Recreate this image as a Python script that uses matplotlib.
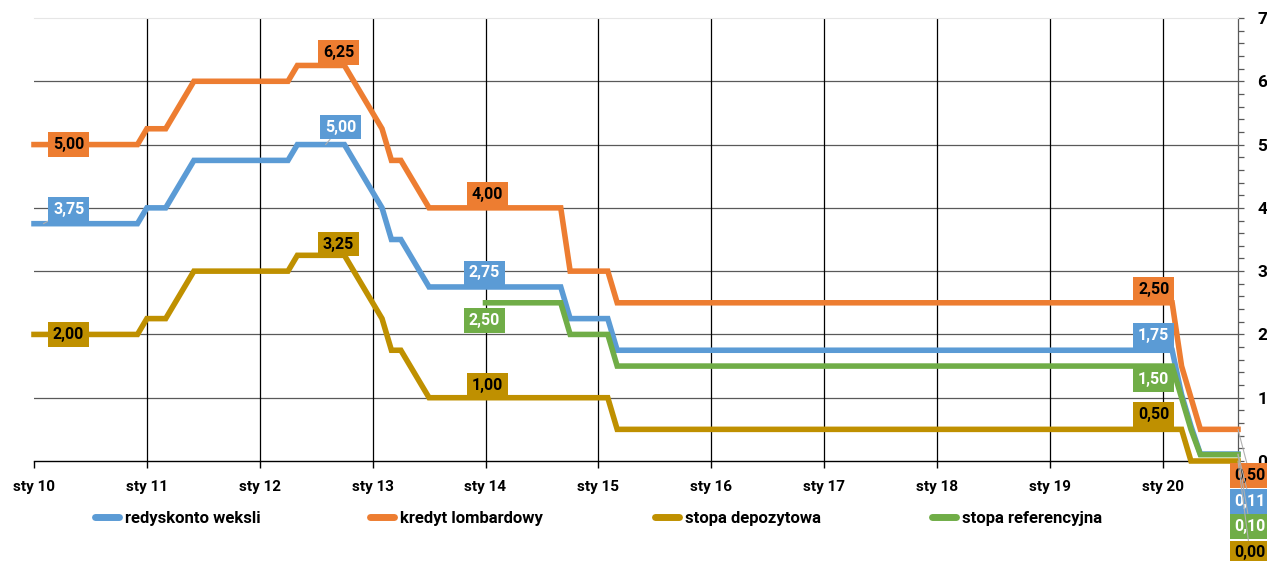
import matplotlib
matplotlib.use("Agg")
import matplotlib.pyplot as plt
import numpy as np
from matplotlib.ticker import MultipleLocator, FixedLocator
from matplotlib.lines import Line2D

plt.rcParams['font.family'] = ['Roboto', 'DejaVu Sans']

# Monthly data, Jan 2010 .. Sep 2020 (one row per year)
redyskonto = [
    3.75, 3.75, 3.75, 3.75, 3.75, 3.75, 3.75, 3.75, 3.75, 3.75, 3.75, 3.75,  # 2010
    4.00, 4.00, 4.00, 4.25, 4.50, 4.75, 4.75, 4.75, 4.75, 4.75, 4.75, 4.75,  # 2011
    4.75, 4.75, 4.75, 4.75, 5.00, 5.00, 5.00, 5.00, 5.00, 5.00, 4.75, 4.50,  # 2012
    4.25, 4.00, 3.50, 3.50, 3.25, 3.00, 2.75, 2.75, 2.75, 2.75, 2.75, 2.75,  # 2013
    2.75, 2.75, 2.75, 2.75, 2.75, 2.75, 2.75, 2.75, 2.75, 2.25, 2.25, 2.25,  # 2014
    2.25, 2.25, 1.75, 1.75, 1.75, 1.75, 1.75, 1.75, 1.75, 1.75, 1.75, 1.75,  # 2015
    1.75, 1.75, 1.75, 1.75, 1.75, 1.75, 1.75, 1.75, 1.75, 1.75, 1.75, 1.75,  # 2016
    1.75, 1.75, 1.75, 1.75, 1.75, 1.75, 1.75, 1.75, 1.75, 1.75, 1.75, 1.75,  # 2017
    1.75, 1.75, 1.75, 1.75, 1.75, 1.75, 1.75, 1.75, 1.75, 1.75, 1.75, 1.75,  # 2018
    1.75, 1.75, 1.75, 1.75, 1.75, 1.75, 1.75, 1.75, 1.75, 1.75, 1.75, 1.75,  # 2019
    1.75, 1.75, 1.05, 0.55, 0.11, 0.11, 0.11, 0.11, 0.11,                    # 2020
]
lombard = [
    5.00, 5.00, 5.00, 5.00, 5.00, 5.00, 5.00, 5.00, 5.00, 5.00, 5.00, 5.00,
    5.25, 5.25, 5.25, 5.50, 5.75, 6.00, 6.00, 6.00, 6.00, 6.00, 6.00, 6.00,
    6.00, 6.00, 6.00, 6.00, 6.25, 6.25, 6.25, 6.25, 6.25, 6.25, 6.00, 5.75,
    5.50, 5.25, 4.75, 4.75, 4.50, 4.25, 4.00, 4.00, 4.00, 4.00, 4.00, 4.00,
    4.00, 4.00, 4.00, 4.00, 4.00, 4.00, 4.00, 4.00, 4.00, 3.00, 3.00, 3.00,
    3.00, 3.00, 2.50, 2.50, 2.50, 2.50, 2.50, 2.50, 2.50, 2.50, 2.50, 2.50,
    2.50, 2.50, 2.50, 2.50, 2.50, 2.50, 2.50, 2.50, 2.50, 2.50, 2.50, 2.50,
    2.50, 2.50, 2.50, 2.50, 2.50, 2.50, 2.50, 2.50, 2.50, 2.50, 2.50, 2.50,
    2.50, 2.50, 2.50, 2.50, 2.50, 2.50, 2.50, 2.50, 2.50, 2.50, 2.50, 2.50,
    2.50, 2.50, 2.50, 2.50, 2.50, 2.50, 2.50, 2.50, 2.50, 2.50, 2.50, 2.50,
    2.50, 2.50, 1.50, 1.00, 0.50, 0.50, 0.50, 0.50, 0.50,
]
depozytowa = [
    2.00, 2.00, 2.00, 2.00, 2.00, 2.00, 2.00, 2.00, 2.00, 2.00, 2.00, 2.00,
    2.25, 2.25, 2.25, 2.50, 2.75, 3.00, 3.00, 3.00, 3.00, 3.00, 3.00, 3.00,
    3.00, 3.00, 3.00, 3.00, 3.25, 3.25, 3.25, 3.25, 3.25, 3.25, 3.00, 2.75,
    2.50, 2.25, 1.75, 1.75, 1.50, 1.25, 1.00, 1.00, 1.00, 1.00, 1.00, 1.00,
    1.00, 1.00, 1.00, 1.00, 1.00, 1.00, 1.00, 1.00, 1.00, 1.00, 1.00, 1.00,
    1.00, 1.00, 0.50, 0.50, 0.50, 0.50, 0.50, 0.50, 0.50, 0.50, 0.50, 0.50,
    0.50, 0.50, 0.50, 0.50, 0.50, 0.50, 0.50, 0.50, 0.50, 0.50, 0.50, 0.50,
    0.50, 0.50, 0.50, 0.50, 0.50, 0.50, 0.50, 0.50, 0.50, 0.50, 0.50, 0.50,
    0.50, 0.50, 0.50, 0.50, 0.50, 0.50, 0.50, 0.50, 0.50, 0.50, 0.50, 0.50,
    0.50, 0.50, 0.50, 0.50, 0.50, 0.50, 0.50, 0.50, 0.50, 0.50, 0.50, 0.50,
    0.50, 0.50, 0.50, 0.00, 0.00, 0.00, 0.00, 0.00, 0.00,
]
nan = np.nan
referencyjna = [
    nan, nan, nan, nan, nan, nan, nan, nan, nan, nan, nan, nan,
    nan, nan, nan, nan, nan, nan, nan, nan, nan, nan, nan, nan,
    nan, nan, nan, nan, nan, nan, nan, nan, nan, nan, nan, nan,
    nan, nan, nan, nan, nan, nan, nan, nan, nan, nan, nan, nan,
    2.50, 2.50, 2.50, 2.50, 2.50, 2.50, 2.50, 2.50, 2.50, 2.00, 2.00, 2.00,
    2.00, 2.00, 1.50, 1.50, 1.50, 1.50, 1.50, 1.50, 1.50, 1.50, 1.50, 1.50,
    1.50, 1.50, 1.50, 1.50, 1.50, 1.50, 1.50, 1.50, 1.50, 1.50, 1.50, 1.50,
    1.50, 1.50, 1.50, 1.50, 1.50, 1.50, 1.50, 1.50, 1.50, 1.50, 1.50, 1.50,
    1.50, 1.50, 1.50, 1.50, 1.50, 1.50, 1.50, 1.50, 1.50, 1.50, 1.50, 1.50,
    1.50, 1.50, 1.50, 1.50, 1.50, 1.50, 1.50, 1.50, 1.50, 1.50, 1.50, 1.50,
    1.50, 1.50, 1.00, 0.50, 0.10, 0.10, 0.10, 0.10, 0.10,
]
x_tick_labels = ["sty 10", "sty 11", "sty 12", "sty 13", "sty 14", "sty 15",
                 "sty 16", "sty 17", "sty 18", "sty 19", "sty 20"]
y_tick_labels = ["0", "1", "2", "3", "4", "5", "6", "7"]
series_names = ["redyskonto weksli", "kredyt lombardowy", "stopa depozytowa", "stopa referencyjna"]
colors = ["#5B9BD5", "#ED7D31", "#BF9000", "#70AD47"]
label_text_colors = ["white", "black", "black", "white"]

series = [redyskonto, lombard, depozytowa, referencyjna]
months = np.arange(len(redyskonto))

W, H = 1267, 561
fig = plt.figure(figsize=(W / 100, H / 100), dpi=100)
ax = fig.add_axes([34 / W, 1 - 461 / H, (1238 - 34) / W, (461 - 18) / H])

ax.set_xlim(0, months[-1])
ax.set_ylim(0, 7)

# grid
for yv in range(1, 7):
    ax.axhline(yv, color="#595959", lw=0.9, zorder=1)
for i in range(1, len(x_tick_labels)):
    ax.axvline(12 * i, color="#000000", lw=0.9, zorder=1)

for s, c in zip(series, colors):
    ax.plot(months, s, color=c, lw=4, solid_joinstyle="miter", zorder=3, clip_on=False)

# axes styling
ax.spines["left"].set_visible(False)
ax.spines["top"].set_color("#e6e6e6")
ax.spines["top"].set_linewidth(0.8)
ax.spines["right"].set_color("#595959")
ax.spines["right"].set_linewidth(0.9)
ax.spines["bottom"].set_color("#000000")
ax.spines["bottom"].set_linewidth(1.0)

ax.xaxis.set_major_locator(FixedLocator([12 * i for i in range(len(x_tick_labels))]))
ax.set_xticklabels(x_tick_labels, fontsize=11, fontweight="bold")
ax.tick_params(axis="x", direction="out", length=5, width=1, pad=9, colors="black")

ax.yaxis.tick_right()
ax.yaxis.set_minor_locator(MultipleLocator(0.2))
ax.set_yticks(range(len(y_tick_labels)))
ax.set_yticklabels(y_tick_labels, fontsize=12.5, fontweight="bold")
ax.tick_params(axis="y", which="both", direction="out", length=4, width=0.9,
               colors="#595959", labelcolor="black", pad=10)


def fmt(v):
    return f"{v:.2f}".replace(".", ",")


# data labels: (series index, month index, offset px, leader line)
labels = [
    (1, 0, (34.5, 0), False), (0, 1, (25.5, 14), True), (2, 0, (34.5, 0), False),
    (1, 33, (-6, 13), False), (0, 31, (15, 17.5), True), (2, 33, (-6, 11.3), False),
    (1, 48, (2, 13.3), False), (0, 48, (-1, 14), False), (3, 48, (-1, -18), False),
    (2, 48, (2, 12.7), False),
    (1, 120, (-9, 13), False), (0, 120, (-9, 14.7), False), (3, 120, (-9, -13.5), False),
    (2, 120, (-9, 15), False),
    (1, 128, (12, -46), True), (0, 128, (12, -47.5), True), (3, 128, (12, -72), True),
    (2, 128, (12, -92), True),
]
for si, m, off, leader in labels:
    v = series[si][m]
    kw = {}
    if leader:
        kw["arrowprops"] = dict(arrowstyle="-", color="#b0b0b0", lw=0.8,
                                shrinkA=0, shrinkB=0)
    ax.annotate(fmt(v), xy=(months[m], v), xytext=off, textcoords="offset pixels",
                ha="center", va="center", fontsize=11.5, fontweight="bold",
                color=label_text_colors[si], zorder=6, annotation_clip=False,
                bbox=dict(boxstyle="square,pad=0.3", fc=colors[si], ec="none"), **kw)

# legend: one entry each at its own position
legend_x = [95, 370, 655, 932]
for name, c, lx in zip(series_names, colors, legend_x):
    h = Line2D([], [], color=c, lw=5, solid_capstyle="round")
    fig.legend([h], [name], loc="center left", bbox_to_anchor=(lx / W, 1 - 518 / H),
               frameon=False, borderpad=0, borderaxespad=0, handlelength=1.45,
               handletextpad=0.35, prop=dict(size=12, weight="bold"))

fig.savefig("out.png", dpi=100)
